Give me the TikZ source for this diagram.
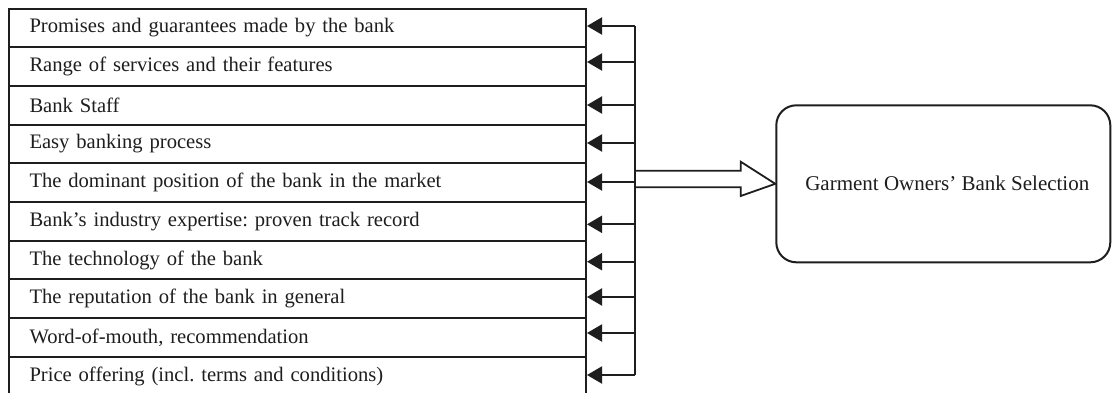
\documentclass[tikz,border=0pt]{standalone}
\usepackage{fontspec}
\setmainfont{Liberation Serif}
\usetikzlibrary{arrows.meta,shapes.arrows}
\definecolor{ink}{HTML}{1E1E1E}
\frenchspacing
\begin{document}
\begin{tikzpicture}[x=1pt,y=-1pt,
  rowbox/.style={draw=ink,line width=2pt,minimum width=577pt,minimum height=38.7pt,
    inner sep=0pt,anchor=north west,text width=563pt,align=left,
    font=\fontsize{20.6}{22}\selectfont,text=ink},
  feed/.style={draw=ink,line width=2pt,-{Triangle[length=15pt,width=17pt]}},
  mainbox/.style={draw=ink,line width=2pt,rounded corners=20pt,minimum width=334pt,
    minimum height=157pt,inner sep=0pt,font=\fontsize{21}{22}\selectfont,text=ink}]
\clip (0,0) rectangle (1114,392);
\fill[white] (0,0) rectangle (1114,392);
\foreach \t [count=\i from 0] in {
  Promises and guarantees made by the bank,
  Range of services and their features,
  Bank Staff,
  Easy banking process,
  The dominant position of the bank in the market,
  Bank’s industry expertise: proven track record,
  The technology of the bank,
  The reputation of the bank in general,
  {Word-of-mouth, recommendation},
  Price offering (incl. terms and conditions)}{
  \node[rowbox] (r\i) at (8,{7.5+38.7*\i}) {\hspace*{13.5pt}\t};
}
\foreach \i/\yy in {0/26,1/62,2/105,3/143,4/182,5/224.3,6/261.7,7/297,8/333,9/375}{
  \coordinate (b\i) at (635,\yy);
  \draw[feed] (b\i) -- (r\i.east |- b\i);
}
\draw[ink,line width=2pt] (b0) -- (b9);
\node[mainbox] (sel) at (943.3,183.8) {\hspace*{8pt}Garment Owners’ Bank Selection};
\draw[ink,line width=1.8pt,line join=miter,fill=white]
  (636,170.7) -- (740.7,170.7) -- (740.7,161.7) -- (sel.west) -- (740.7,196) -- (740.7,187.3) -- (636,187.3);
\end{tikzpicture}
\end{document}
